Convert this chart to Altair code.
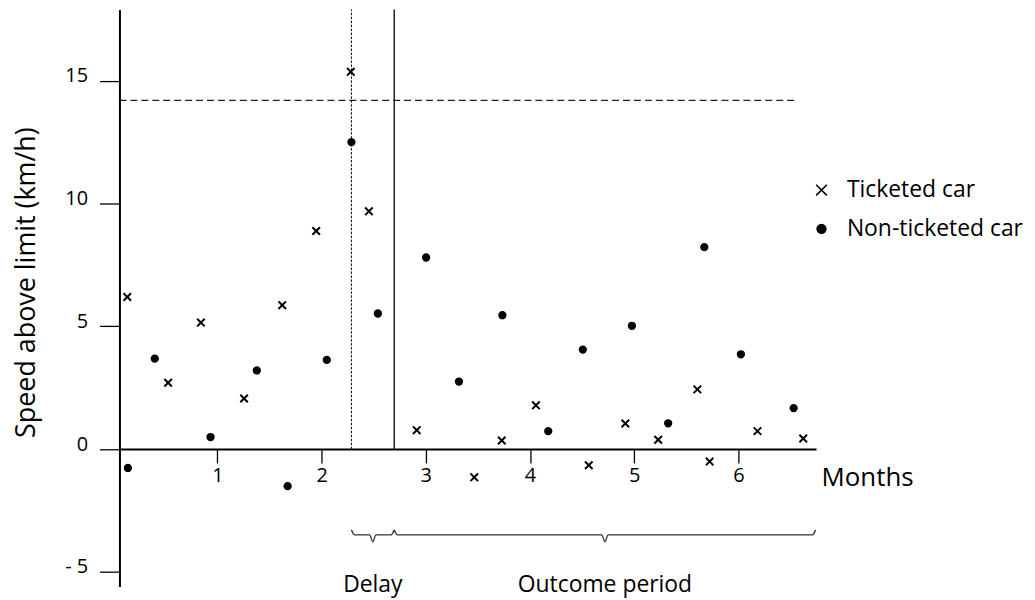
import altair as alt
import pandas as pd

# ---- data ----
ticketed_x = [0.135, 0.527, 0.842, 1.256, 1.622, 1.948, 2.280, 2.454, 2.913, 3.465,
              3.729, 4.057, 4.564, 4.915, 5.230, 5.606, 5.724, 6.183, 6.622]
ticketed_y = [6.19, 2.70, 5.15, 2.06, 5.86, 8.88, 15.36, 9.68, 0.77, -1.15,
              0.35, 1.78, -0.66, 1.04, 0.38, 2.43, -0.51, 0.73, 0.43]
nonticketed_x = [0.141, 0.399, 0.934, 1.378, 1.674, 2.050, 2.286, 2.540, 3.003,
                 3.318, 3.735, 4.175, 4.507, 4.978, 5.326, 5.673, 6.024, 6.530]
nonticketed_y = [-0.77, 3.68, 0.49, 3.20, -1.51, 3.63, 12.50, 5.52, 7.80,
                 2.75, 5.45, 0.73, 4.05, 5.02, 1.05, 8.22, 3.86, 1.67]

series_names = ["Ticketed car", "Non-ticketed car"]
x_ticks = [1, 2, 3, 4, 5, 6]
y_ticks = [-5, 0, 5, 10, 15]

ticket_time = 2.286      # dotted vertical line
delay_end = 2.697        # solid vertical line
threshold = 14.2         # dashed horizontal line
threshold_end = 6.555
period_names = ["Delay", "Outcome period"]
period_start = [2.286, 2.697]
period_end = [2.697, 6.741]

X_DOM = [0.06, 6.745]
Y_DOM = [-5.6, 17.9]
PLOT_H = 580
FONT = "Open Sans"

# ---- tables ----
pts = pd.DataFrame({
    "month": ticketed_x + nonticketed_x,
    "speed": ticketed_y + nonticketed_y,
    "car": [series_names[0]] * len(ticketed_x) + [series_names[1]] * len(nonticketed_x),
})

brace_y, curl, tip = -3.49, 0.2, 0.29
brace_rows = []
for name, a, b in zip(period_names, period_start, period_end):
    m = (a + b) / 2
    for xx, yy in [(a, brace_y + curl), (a + 0.03, brace_y), (m - 0.03, brace_y),
                   (m, brace_y - tip), (m + 0.03, brace_y), (b - 0.03, brace_y),
                   (b, brace_y + curl)]:
        brace_rows.append({"period": name, "month": xx, "speed": yy})
braces_df = pd.DataFrame(brace_rows)

labels_df = pd.DataFrame({
    "period": period_names,
    "month": [(a + b) / 2 for a, b in zip(period_start, period_end)],
    "speed": [-5.55, -5.55],
})

xs = alt.Scale(domain=X_DOM, nice=False, zero=False)
ys = alt.Scale(domain=Y_DOM, nice=False, zero=False)

y_offset = -(0 - Y_DOM[0]) / (Y_DOM[1] - Y_DOM[0]) * PLOT_H

x_axis = alt.Axis(values=x_ticks, format="d", grid=False, domainColor="black", domainWidth=2,
                  tickColor="black", tickSize=14, tickWidth=1.3, labelFontSize=20,
                  labelColor="black", labelPadding=3, offset=y_offset,
                  title="Months", titleFontSize=26, titleFontWeight="normal",
                  titleColor="black", titleX=705, titleY=29, titleAlign="left",
                  titleBaseline="middle", titleAngle=0)
y_axis = alt.Axis(values=y_ticks, grid=False, domainColor="black", domainWidth=2,
                  tickColor="black", tickSize=20, tickWidth=1.3, labelFontSize=20,
                  labelColor="black", labelPadding=12, labelOffset=-5,
                  labelExpr="datum.value < 0 ? '- ' + abs(datum.value) : datum.label",
                  title="Speed above limit (km/h)", titleFontSize=27,
                  titleFontWeight="normal", titleColor="black", titleX=-93, titleY=274,
                  titleBaseline="middle", titleAlign="center")

shape_scale = alt.Scale(domain=series_names,
                        range=["M-1.2,-1.2L1.2,1.2M-1.2,1.2L1.2,-1.2", "circle"])
stroke_scale = alt.Scale(domain=series_names, range=["black", "black"])
legend = alt.Legend(orient="none", legendX=694, legendY=170, title=None,
                    labelFontSize=23, labelColor="black", labelFont=FONT, labelLimit=400,
                    symbolSize=80, symbolStrokeWidth=1.5,
                    symbolFillColor="black", symbolStrokeColor="black",
                    rowPadding=15, labelOffset=14)

base_pts = alt.Chart(pts).mark_point(
    filled=True, color="black", strokeWidth=2, opacity=1, size=40
).encode(
    x=alt.X("month:Q", scale=xs, axis=x_axis),
    y=alt.Y("speed:Q", scale=ys, axis=y_axis),
    shape=alt.Shape("car:N", scale=shape_scale, sort=series_names, legend=legend),
    stroke=alt.Stroke("car:N", scale=stroke_scale, sort=series_names, legend=legend),
)

vdot = alt.Chart(pd.DataFrame({"month": [ticket_time], "y0": [0.0], "y1": [Y_DOM[1]]})).mark_rule(
    color="black", strokeWidth=1, strokeDash=[2.5, 1.5]
).encode(x=alt.X("month:Q", scale=xs), y=alt.Y("y0:Q", scale=ys), y2="y1:Q")

vsolid = alt.Chart(pd.DataFrame({"month": [delay_end], "y0": [0.0], "y1": [Y_DOM[1]]})).mark_rule(
    color="black", strokeWidth=1.3
).encode(x=alt.X("month:Q", scale=xs), y=alt.Y("y0:Q", scale=ys), y2="y1:Q")

hdash = alt.Chart(pd.DataFrame({"x0": [X_DOM[0]], "x1": [threshold_end], "speed": [threshold]})).mark_rule(
    color="#222", strokeWidth=1.3, strokeDash=[7, 4]
).encode(x=alt.X("x0:Q", scale=xs), x2="x1:Q", y=alt.Y("speed:Q", scale=ys))

braces = alt.Chart(braces_df).mark_line(
    color="#333", strokeWidth=1.3, interpolate="monotone"
).encode(x=alt.X("month:Q", scale=xs), y=alt.Y("speed:Q", scale=ys), detail="period:N",
         order="month:Q")

texts = alt.Chart(labels_df).mark_text(
    font=FONT, fontSize=23, color="black", align="center", baseline="middle"
).encode(x=alt.X("month:Q", scale=xs), y=alt.Y("speed:Q", scale=ys), text="period:N")

chart = alt.layer(hdash, vdot, vsolid, braces, texts, base_pts).properties(
    width=700, height=PLOT_H,
    autosize=alt.AutoSizeParams(type="none"),
    padding={"left": 112, "top": 0, "right": 212, "bottom": 10},
).configure(font=FONT).configure_view(strokeWidth=0)

chart.save("out.html", embed_options={"renderer": "svg", "actions": False})
